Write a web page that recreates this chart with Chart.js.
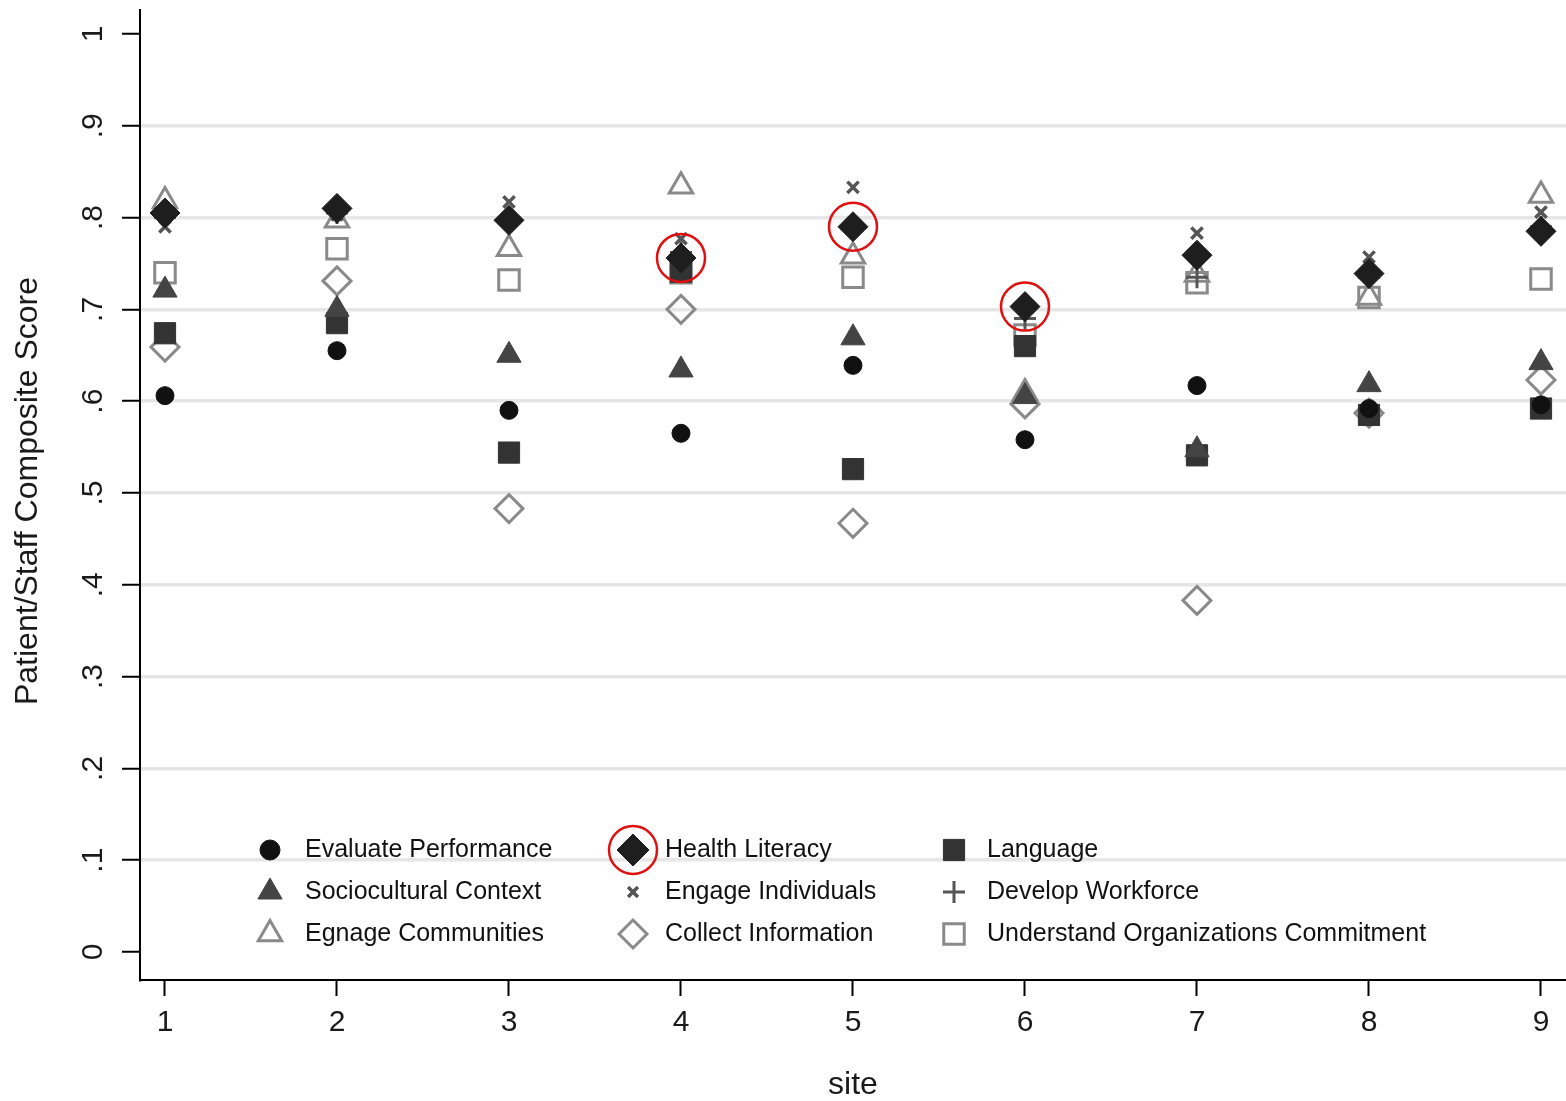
<!DOCTYPE html>
<html><head><meta charset="utf-8">
<script src="https://cdn.jsdelivr.net/npm/chart.js@4.4.1/dist/chart.umd.min.js"></script>
<style>html,body{margin:0;padding:0;background:#fff;} #wrap{width:1566px;height:1101px;}</style>
</head><body><div id="wrap"><canvas id="c" width="1566" height="1101"></canvas></div>
<script>
const sites = [1,2,3,4,5,6,7,8,9];
const evaluatePerformance  = [0.606,0.655,0.590,0.565,0.639,0.558,0.617,0.592,0.596];
const healthLiteracy       = [0.805,0.810,0.797,0.756,0.790,0.703,0.759,0.739,0.785];
const language             = [0.674,0.685,0.544,0.741,0.526,0.660,0.541,0.585,0.592];
const socioculturalContext = [0.721,0.700,0.650,0.634,0.669,0.605,0.547,0.618,0.642];
const engageIndividuals    = [0.790,0.803,0.817,0.777,0.833,0.705,0.783,0.757,0.806];
const developWorkforce     = [0.800,0.805,0.797,0.762,0.790,0.690,0.735,0.735,0.790];
const egnageCommunities    = [0.818,0.797,0.766,0.834,0.758,0.609,0.738,0.713,0.824];
const collectInformation   = [0.659,0.731,0.483,0.700,0.467,0.597,0.383,0.587,0.623];
const understandCommitment = [0.740,0.766,0.732,0.740,0.735,0.672,0.729,0.713,0.733];
const highlightedSites = [4,5,6];
const yTickValues = [0,0.1,0.2,0.3,0.4,0.5,0.6,0.7,0.8,0.9,1];
const yTickLabels = ["0",".1",".2",".3",".4",".5",".6",".7",".8",".9","1"];
const xTickValues = [1,2,3,4,5,6,7,8,9];
const xTickLabels = ["1","2","3","4","5","6","7","8","9"];
const yTitle = "Patient/Staff Composite Score";
const xTitle = "site";

const FONT = '"Liberation Sans", Arial, sans-serif';
const series = {
  "Evaluate Performance": {data: evaluatePerformance, style:'circle', r:9, fill:'#111111', stroke:'#111111', bw:1},
  "Health Literacy": {data: healthLiteracy, style:'rectRot', r:15, fill:'#1e1e1e', stroke:'#1e1e1e', bw:1},
  "Language": {data: language, style:'rect', r:15, fill:'#333333', stroke:'#333333', bw:1},
  "Sociocultural Context": {data: socioculturalContext, style:'triangle', r:14, fill:'#444444', stroke:'#444444', bw:1},
  "Engage Individuals": {data: engageIndividuals, style:'crossRot', r:8, fill:'#555555', stroke:'#555555', bw:3.5},
  "Develop Workforce": {data: developWorkforce, style:'cross', r:11, fill:'#555555', stroke:'#555555', bw:3},
  "Egnage Communities": {data: egnageCommunities, style:'triangle', r:13.5, fill:'rgba(255,255,255,0)', stroke:'#8a8a8a', bw:3},
  "Collect Information": {data: collectInformation, style:'rectRot', r:14, fill:'rgba(255,255,255,0)', stroke:'#8a8a8a', bw:3},
  "Understand Organizations Commitment": {data: understandCommitment, style:'rect', r:14.5, fill:'rgba(255,255,255,0)', stroke:'#8a8a8a', bw:3}
};
// drawing order: first listed drawn on top
const drawOrder = ["Health Literacy","Engage Individuals","Evaluate Performance","Sociocultural Context","Language","Develop Workforce","Egnage Communities","Collect Information","Understand Organizations Commitment"];
const legendOrder = ["Evaluate Performance","Health Literacy","Language","Sociocultural Context","Engage Individuals","Develop Workforce","Egnage Communities","Collect Information","Understand Organizations Commitment"];

const datasets = [];
datasets.push({
  label:'highlight',
  data: sites.map((s,i)=>({x:s, y: highlightedSites.includes(s) ? healthLiteracy[i] : null})),
  pointStyle:'circle', pointRadius:24, backgroundColor:'rgba(0,0,0,0)', borderColor:'#e01010', borderWidth:2.5, showLine:false
});
drawOrder.forEach(name=>{
  const s = series[name];
  datasets.push({
    label:name,
    data: sites.map((x,i)=>({x:x, y:s.data[i]})),
    pointStyle:s.style, pointRadius:s.r, backgroundColor:s.fill, borderColor:s.stroke, borderWidth:s.bw, showLine:false
  });
});

function marker(ctx, style, x, y, r, fill, stroke, bw){
  ctx.save();
  ctx.fillStyle = fill; ctx.strokeStyle = stroke; ctx.lineWidth = bw;
  if (Chart.helpers && Chart.helpers.drawPoint) {
    Chart.helpers.drawPoint(ctx, {pointStyle:style, radius:r, rotation:0, borderWidth:bw}, x, y);
  }
  ctx.restore();
}

const overlay = {
  id:'overlay',
  afterDraw(chart){
    const ctx = chart.ctx;
    const ys = chart.scales.y, xs = chart.scales.x;
    ctx.save();
    ctx.fillStyle = '#1a1a1a';
    ctx.font = '30px ' + FONT;
    ctx.textAlign = 'center'; ctx.textBaseline = 'middle';
    yTickValues.forEach((v,i)=>{
      const py = ys.getPixelForValue(v);
      ctx.save(); ctx.translate(94, py); ctx.rotate(-Math.PI/2);
      ctx.fillText(yTickLabels[i], 0, 0); ctx.restore();
    });
    xTickValues.forEach((v,i)=>{
      ctx.fillText(xTickLabels[i], xs.getPixelForValue(v), 1023);
    });
    ctx.font = '32px ' + FONT;
    ctx.fillText(xTitle, xs.getPixelForValue((xs.min+xs.max)/2), 1085);
    ctx.save(); ctx.translate(28, 491); ctx.rotate(-Math.PI/2);
    ctx.fillText(yTitle, 0, 0); ctx.restore();
    ctx.restore();
    const colMarker = [270, 633, 954];
    const colText = [305, 665, 987];
    const rowY = [850, 892, 934];
    ctx.save();
    ctx.font = '25px ' + FONT;
    ctx.textAlign = 'left'; ctx.textBaseline = 'middle';
    legendOrder.forEach((name,i)=>{
      const c = i % 3, r = Math.floor(i/3);
      const s = series[name];
      const lr = s.style==='crossRot' ? 7 : (s.style==='circle' ? 10 : (s.style==='rectRot' && s.fill.indexOf('rgba')<0 ? 16 : s.r));
      marker(ctx, s.style, colMarker[c], rowY[r], lr, s.fill, s.stroke, s.bw);
      ctx.fillStyle = '#111';
      ctx.fillText(name, colText[c], rowY[r]);
    });
    ctx.beginPath(); ctx.strokeStyle='#e01010'; ctx.lineWidth=2.5;
    ctx.arc(colMarker[1], rowY[0], 24, 0, Math.PI*2); ctx.stroke();
    ctx.restore();
  }
};

new Chart(document.getElementById('c'), {
  type:'scatter',
  data:{datasets},
  options:{
    responsive:false, animation:false, events:[],
    layout:{autoPadding:false, padding:{top:10,right:0,left:0,bottom:0}},
    plugins:{legend:{display:false}, tooltip:{enabled:false}},
    scales:{
      x:{
        type:'linear', min:0.8547, max:9.1454,
        afterBuildTicks(s){ s.ticks = xTickValues.map(v=>({value:v})); },
        afterFit(s){ s.height = 121; },
        ticks:{ display:false },
        grid:{ drawOnChartArea:false, drawTicks:true, tickLength:16, tickColor:'#000', tickWidth:2 },
        border:{ display:true, color:'#000', width:2 },
        title:{ display:false }
      },
      y:{
        type:'linear', min:-0.0305, max:1.0261,
        afterBuildTicks(s){ s.ticks = yTickValues.map(v=>({value:v})); },
        afterFit(s){ s.width = 140; },
        ticks:{ display:false },
        grid:{
          color:(c)=> (c.tick && (c.tick.value===0 || c.tick.value===1)) ? 'rgba(0,0,0,0)' : '#e6e6e6',
          lineWidth:3.5, drawTicks:true, tickLength:18, tickColor:'#000', tickWidth:2
        },
        border:{ display:true, color:'#000', width:2 },
        title:{ display:false }
      }
    }
  },
  plugins:[overlay]
});
</script>
</body></html>
